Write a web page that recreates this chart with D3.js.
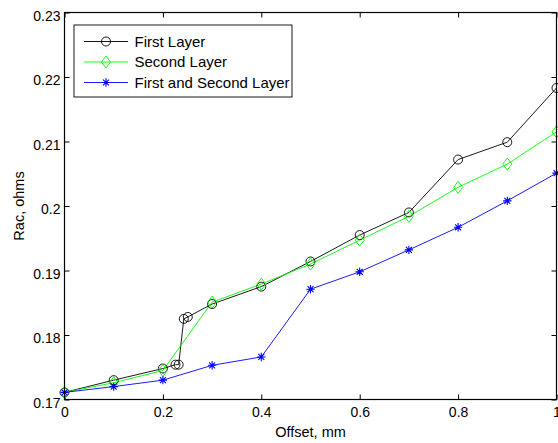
<!DOCTYPE html>
<html><head><meta charset="utf-8">
<script src="https://cdn.jsdelivr.net/npm/d3@7"></script>
<style>body{margin:0;background:#fff}svg{display:block}text{font-family:"Liberation Sans",Arial,sans-serif;fill:#000}</style>
</head><body><svg id="c" width="558" height="443"></svg>
<script>
const firstX = [0, 0.1, 0.2, 0.2256, 0.232, 0.2425, 0.2506, 0.3, 0.4, 0.5, 0.6, 0.7, 0.8, 0.9, 1.0];
const firstY = [0.1711, 0.1730, 0.1748, 0.1754, 0.1754, 0.1825, 0.1828, 0.1848, 0.1875, 0.1914, 0.1955, 0.1990, 0.2072, 0.2099, 0.2183];
const secondX = [0, 0.1, 0.2, 0.3, 0.4, 0.5, 0.6, 0.7, 0.8, 0.9, 1.0];
const secondY = [0.1711, 0.1726, 0.1745, 0.1851, 0.1879, 0.1910, 0.1947, 0.1984, 0.2029, 0.2065, 0.2115];
const bothX = [0, 0.1, 0.2, 0.3, 0.4, 0.5, 0.6, 0.7, 0.8, 0.9, 1.0];
const bothY = [0.1711, 0.1720, 0.1730, 0.1753, 0.1766, 0.1871, 0.1898, 0.1932, 0.1967, 0.2008, 0.2051];
const xTicks = [0, 0.2, 0.4, 0.6, 0.8, 1];
const yTicks = [0.17, 0.18, 0.19, 0.2, 0.21, 0.22, 0.23];
const seriesNames = ["First Layer", "Second Layer", "First and Second Layer"];
const seriesColors = ["#000000", "#00ff00", "#0000ff"];
const seriesMarkers = ["circle", "diamond", "star"];

const svg = d3.select("#c");
const L = 64.5, R = 556.5, T = 12.5, B = 399.5;
const x = d3.scaleLinear().domain([0, 1]).range([L, R]);
const y = d3.scaleLinear().domain([0.17, 0.23]).range([B, T]);

const fmt = d => d === 0 ? "0" : d === 1 ? "1" : String(+d.toFixed(2));
const ax = (g, axis) => { g.call(axis); g.select(".domain").remove(); g.selectAll("text").style("font-family", '"Liberation Sans",Arial,sans-serif').style("font-size", "14px").attr("fill", "#000"); g.selectAll("line").attr("stroke", "#000"); };
svg.append("g").attr("transform", `translate(0,${B})`).call(g => ax(g, d3.axisBottom(x).tickValues(xTicks).tickFormat(fmt).tickSizeInner(-5).tickSizeOuter(0).tickPadding(8)));
svg.append("g").attr("transform", `translate(0,${T})`).call(g => ax(g, d3.axisTop(x).tickValues(xTicks).tickFormat("").tickSizeInner(-5).tickSizeOuter(0)));
svg.append("g").attr("transform", `translate(${L},0)`).call(g => { ax(g, d3.axisLeft(y).tickValues(yTicks).tickFormat(fmt).tickSizeInner(-5).tickSizeOuter(0).tickPadding(4)); g.selectAll("text").attr("dy", "0.55em"); });
svg.append("g").attr("transform", `translate(${R},0)`).call(g => ax(g, d3.axisRight(y).tickValues(yTicks).tickFormat("").tickSizeInner(-5).tickSizeOuter(0)));

svg.append("defs").append("clipPath").attr("id", "clp").append("rect").attr("x", L - 6).attr("y", T - 6).attr("width", R - L + 12).attr("height", B - T + 12);

const data = [d3.zip(firstX, firstY), d3.zip(secondX, secondY), d3.zip(bothX, bothY)];
const line = d3.line().x(d => x(d[0])).y(d => y(d[1]));

function marker(g, type, color, cx, cy) {
  if (type === "circle") g.append("circle").attr("cx", cx).attr("cy", cy).attr("r", 4.5).attr("fill", "none").attr("stroke", color).attr("stroke-width", 0.9);
  else if (type === "diamond") g.append("path").attr("d", `M${cx},${cy-6}L${cx+4.5},${cy}L${cx},${cy+6}L${cx-4.5},${cy}Z`).attr("fill", "none").attr("stroke", color).attr("stroke-width", 0.9);
  else {
    const r = 4.2, s = r * Math.SQRT1_2;
    g.append("path").attr("d", `M${cx-r},${cy}H${cx+r}M${cx},${cy-r}V${cy+r}M${cx-s},${cy-s}L${cx+s},${cy+s}M${cx-s},${cy+s}L${cx+s},${cy-s}`).attr("stroke", color).attr("stroke-width", 1.1);
  }
}

const plot = svg.append("g").attr("clip-path", "url(#clp)");
data.forEach((ds, i) => {
  plot.append("path").datum(ds).attr("d", line).attr("fill", "none").attr("stroke", seriesColors[i]).attr("stroke-width", 0.9);
});
data.forEach((ds, i) => {
  ds.forEach(d => marker(plot, seriesMarkers[i], seriesColors[i], x(d[0]), y(d[1])));
});

svg.append("rect").attr("x", L).attr("y", T).attr("width", R - L).attr("height", B - T).attr("fill", "none").attr("stroke", "#000").attr("stroke-width", 1.2);

svg.append("text").attr("x", (L + R) / 2).attr("y", 437).attr("text-anchor", "middle").style("font-size", "14.5px").text("Offset, mm");
svg.append("text").attr("transform", `translate(24,${(T + B) / 2}) rotate(-90)`).attr("text-anchor", "middle").style("font-size", "14.5px").text("Rac, ohms");

const lg = svg.append("g");
lg.append("rect").attr("x", 74).attr("y", 25).attr("width", 218).attr("height", 72).attr("fill", "#fff").attr("stroke", "#000").attr("stroke-width", 0.9);
const rowY = [41.5, 62, 82.5];
seriesNames.forEach((n, i) => {
  lg.append("line").attr("x1", 84).attr("x2", 128).attr("y1", rowY[i]).attr("y2", rowY[i]).attr("stroke", seriesColors[i]).attr("stroke-width", 0.9);
  marker(lg, seriesMarkers[i], seriesColors[i], 106, rowY[i]);
  lg.append("text").attr("x", 134.5).attr("y", rowY[i] + 5).style("font-size", "15px").text(n);
});
</script></body></html>
